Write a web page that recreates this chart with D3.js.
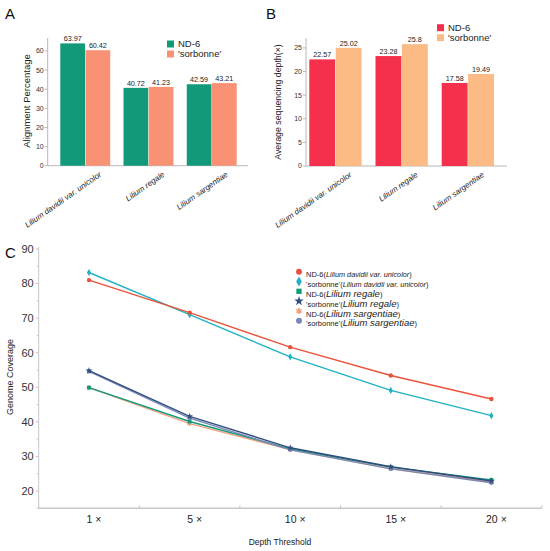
<!DOCTYPE html>
<html><head><meta charset="utf-8">
<script src="https://cdn.jsdelivr.net/npm/d3@7"></script>
<style>body{margin:0;background:#fff}svg{font-family:"Liberation Sans",Arial,sans-serif}</style>
</head><body><svg id="c" width="550" height="551"></svg>
<script>
// ---------- data ----------
const species = ["Lilium davidii var. unicolor", "Lilium regale", "Lilium sargentiae"];
const groupNames = ["ND-6", "'sorbonne'"];
const alignND6 = [63.97, 40.72, 42.59];
const alignSorb = [60.42, 41.23, 43.21];
const alignTicks = [0, 10, 20, 30, 40, 50, 60];
const depthND6 = [22.57, 23.28, 17.58];
const depthSorb = [25.02, 25.8, 19.49];
const depthTicks = [0, 5, 10, 15, 20, 25];
const thresholds = ["1 ×", "5 ×", "10 ×", "15 ×", "20 ×"];
const covND6Dav = [81.0, 71.6, 61.6, 53.4, 46.6];
const covSorbDav = [83.2, 71.0, 58.8, 49.1, 41.8];
const covND6Reg = [49.9, 40.1, 32.2, 26.9, 23.2];
const covSorbReg = [54.8, 41.6, 32.5, 27.0, 22.9];
const covND6Sar = [49.9, 39.5, 32.0, 26.5, 22.6];
const covSorbSar = [54.6, 41.1, 31.9, 26.4, 22.4];
const covTicks = [20, 30, 40, 50, 60, 70, 80, 90];
const covMinor = [15, 25, 35, 45, 55, 65, 75, 85];

const svg = d3.select("#c");
const axisCol = "#b8b8b8";

function barPanel(cfg) {
  const g = svg.append("g");
  const y = d3.scaleLinear().domain(cfg.domain).range(cfg.yRange);
  const x0 = d3.scaleBand().domain(species).range(cfg.xRange).paddingInner(0.21).paddingOuter(0);
  const x1 = d3.scaleBand().domain(groupNames).range([0, x0.bandwidth()]).paddingInner(0.02);
  const vals = [cfg.a, cfg.b];
  g.append("line").attr("x1", cfg.axisX).attr("x2", cfg.axisX).attr("y1", y(cfg.domain[1])).attr("y2", y(0)).attr("stroke", axisCol);
  g.append("line").attr("x1", cfg.axisX).attr("x2", cfg.axisEnd).attr("y1", y(0)).attr("y2", y(0)).attr("stroke", axisCol);
  cfg.ticks.forEach(t => {
    g.append("line").attr("x1", cfg.axisX - 3).attr("x2", cfg.axisX).attr("y1", y(t)).attr("y2", y(t)).attr("stroke", axisCol);
    g.append("text").attr("x", cfg.axisX - 4).attr("y", y(t)).attr("dy", "0.35em").attr("text-anchor", "end")
      .attr("font-size", 7).attr("fill", "#333").text(t);
  });
  species.forEach((s, i) => {
    groupNames.forEach((gn, j) => {
      const v = vals[j][i];
      const bx = x0(s) + x1(gn);
      g.append("rect").attr("x", bx).attr("y", y(v)).attr("width", x1.bandwidth()).attr("height", y(0) - y(v)).attr("fill", cfg.colors[j]);
      g.append("text").attr("x", bx + x1.bandwidth() / 2).attr("y", y(v) - 2).attr("text-anchor", "middle")
        .attr("font-size", 7.2).attr("fill", "#222").text(v);
    });
    const cx = x0(s) + x0.bandwidth() / 2 + 14;
    g.append("text").attr("transform", `translate(${cx},${y(0) + 6}) rotate(-35)`).attr("text-anchor", "end")
      .attr("dy", "0.6em").attr("font-size", 8).attr("font-style", "italic").attr("fill", "#222").text(s);
  });
  g.append("text").attr("transform", `translate(${cfg.titleX},${cfg.titleY}) rotate(-90)`).attr("text-anchor", "middle")
    .attr("font-size", cfg.titleSize).attr("fill", "#222").text(cfg.title);
  groupNames.forEach((gn, j) => {
    const ly = cfg.legY + j * 10;
    g.append("rect").attr("x", cfg.legX).attr("y", ly - 3.5).attr("width", 7).attr("height", 7).attr("fill", cfg.colors[j]);
    g.append("text").attr("x", cfg.legX + 11).attr("y", ly).attr("dy", "0.35em").attr("font-size", 9.5).attr("fill", "#222").text(gn);
  });
  g.append("text").attr("x", cfg.labX).attr("y", 19).attr("font-size", 15).attr("fill", "#111").text(cfg.label);
}

barPanel({
  a: alignND6, b: alignSorb, domain: [0, 66.8], yRange: [165.7, 38], xRange: [60.3, 236.7],
  ticks: alignTicks, axisX: 47.7, axisEnd: 248, colors: ["#12997a", "#f99274"],
  title: "Alignment Percentage", titleX: 30, titleY: 101, titleSize: 9.5,
  legX: 167, legY: 44, label: "A", labX: 5
});
barPanel({
  a: depthND6, b: depthSorb, domain: [0, 27.1], yRange: [166, 38], xRange: [309.3, 494],
  ticks: depthTicks, axisX: 306, axisEnd: 507, colors: ["#f5304c", "#fcbb84"],
  title: "Average sequencing depth(×)", titleX: 281, titleY: 102, titleSize: 8.8,
  legX: 437, legY: 27.7, label: "B", labX: 266
});

// ---------- panel C ----------
const gc = svg.append("g");
const yC = d3.scaleLinear().domain([90, 15]).range([249, 508.3]);
const xC = d3.scaleBand().domain(thresholds).range([38.7, 541.7]);
const axX = 38.7, axY = yC(15);
gc.append("line").attr("x1", axX).attr("x2", axX).attr("y1", yC(90) - 2).attr("y2", axY).attr("stroke", "#c8c8c8");
gc.append("line").attr("x1", axX).attr("x2", 541.7).attr("y1", axY).attr("y2", axY).attr("stroke", "#c8c8c8").attr("stroke-width", 1.5);
covTicks.forEach(t => {
  gc.append("line").attr("x1", axX - 3).attr("x2", axX).attr("y1", yC(t)).attr("y2", yC(t)).attr("stroke", "#c8c8c8");
  gc.append("text").attr("x", axX - 5).attr("y", yC(t)).attr("dy", "0.35em").attr("text-anchor", "end").attr("font-size", 11).attr("fill", "#333").text(t);
});
covMinor.forEach(t => {
  gc.append("line").attr("x1", axX - 2).attr("x2", axX).attr("y1", yC(t)).attr("y2", yC(t)).attr("stroke", "#c8c8c8");
});
thresholds.forEach((t, i) => {
  gc.append("line").attr("x1", xC(t)).attr("x2", xC(t)).attr("y1", axY - 3).attr("y2", axY).attr("stroke", "#c8c8c8");
  gc.append("text").attr("x", xC(t) + xC.bandwidth() / 2 + 5).attr("y", 523).attr("text-anchor", "middle").attr("font-size", 10.5).attr("fill", "#222").text(t);
});
gc.append("line").attr("x1", 541.7).attr("x2", 541.7).attr("y1", axY - 3).attr("y2", axY).attr("stroke", "#c8c8c8");
gc.append("text").attr("x", 280).attr("y", 545).attr("text-anchor", "middle").attr("font-size", 8.5).attr("fill", "#222").text("Depth Threshold");
gc.append("text").attr("transform", "translate(13,377) rotate(-90)").attr("text-anchor", "middle").attr("font-size", 9).attr("fill", "#222").text("Genome Coverage");
gc.append("text").attr("x", 5).attr("y", 258).attr("font-size", 15).attr("fill", "#111").text("C");

const seriesC = [
  { v: covND6Sar, c: "#f5a07e", sym: d3.symbolAsterisk, stroke: true, pre: "ND-6(", sp: "Lilium sargentiae", big: true },
  { v: covND6Reg, c: "#119a7a", sym: d3.symbolSquare, pre: "ND-6(", sp: "Lilium regale", big: true },
  { v: covSorbSar, c: "#7a88b4", sym: d3.symbolCircle, pre: "'sorbonne'(", sp: "Lilium sargentiae", big: true },
  { v: covSorbReg, c: "#2f4d80", sym: d3.symbolStar, pre: "'sorbonne'(", sp: "Lilium regale", big: true },
  { v: covSorbDav, c: "#20b2c2", sym: d3.symbolDiamond, pre: "'sorbonne'(", sp: "Lilium davidii var. unicolor", big: false },
  { v: covND6Dav, c: "#e9533b", sym: d3.symbolCircle, pre: "ND-6(", sp: "Lilium davidii var. unicolor", big: false }
];
const legendOrder = [5, 4, 1, 3, 0, 2];
const line = d3.line().x((d, i) => xC(thresholds[i]) + xC.bandwidth() / 2).y(d => yC(d));
seriesC.forEach(s => {
  gc.append("path").attr("d", line(s.v)).attr("fill", "none").attr("stroke", s.c).attr("stroke-width", 1.4);
  s.v.forEach((d, i) => {
    const p = gc.append("path").attr("d", d3.symbol().type(s.sym).size(s.stroke ? 18 : 15)())
      .attr("transform", `translate(${xC(thresholds[i]) + xC.bandwidth() / 2},${yC(d)})`);
    if (s.stroke) p.attr("fill", "none").attr("stroke", s.c).attr("stroke-width", 1.2);
    else p.attr("fill", s.c);
  });
});
legendOrder.forEach((k, r) => {
  const s = seriesC[k];
  const ly = 271.7 + r * 9.8;
  const p = gc.append("path").attr("d", d3.symbol().type(s.sym).size(s.stroke ? 26 : 28)()).attr("transform", `translate(299,${ly})`);
  if (s.stroke) p.attr("fill", "none").attr("stroke", s.c).attr("stroke-width", 1.5);
  else p.attr("fill", s.c);
  const t = gc.append("text").attr("x", 306).attr("y", ly).attr("dy", "0.35em").attr("fill", "#222");
  t.append("tspan").attr("font-size", 7.5).text(s.pre);
  t.append("tspan").attr("font-size", s.big ? 9.5 : 7.3).attr("font-style", "italic").text(s.sp);
  t.append("tspan").attr("font-size", 7.5).text(")");
});
</script></body></html>
